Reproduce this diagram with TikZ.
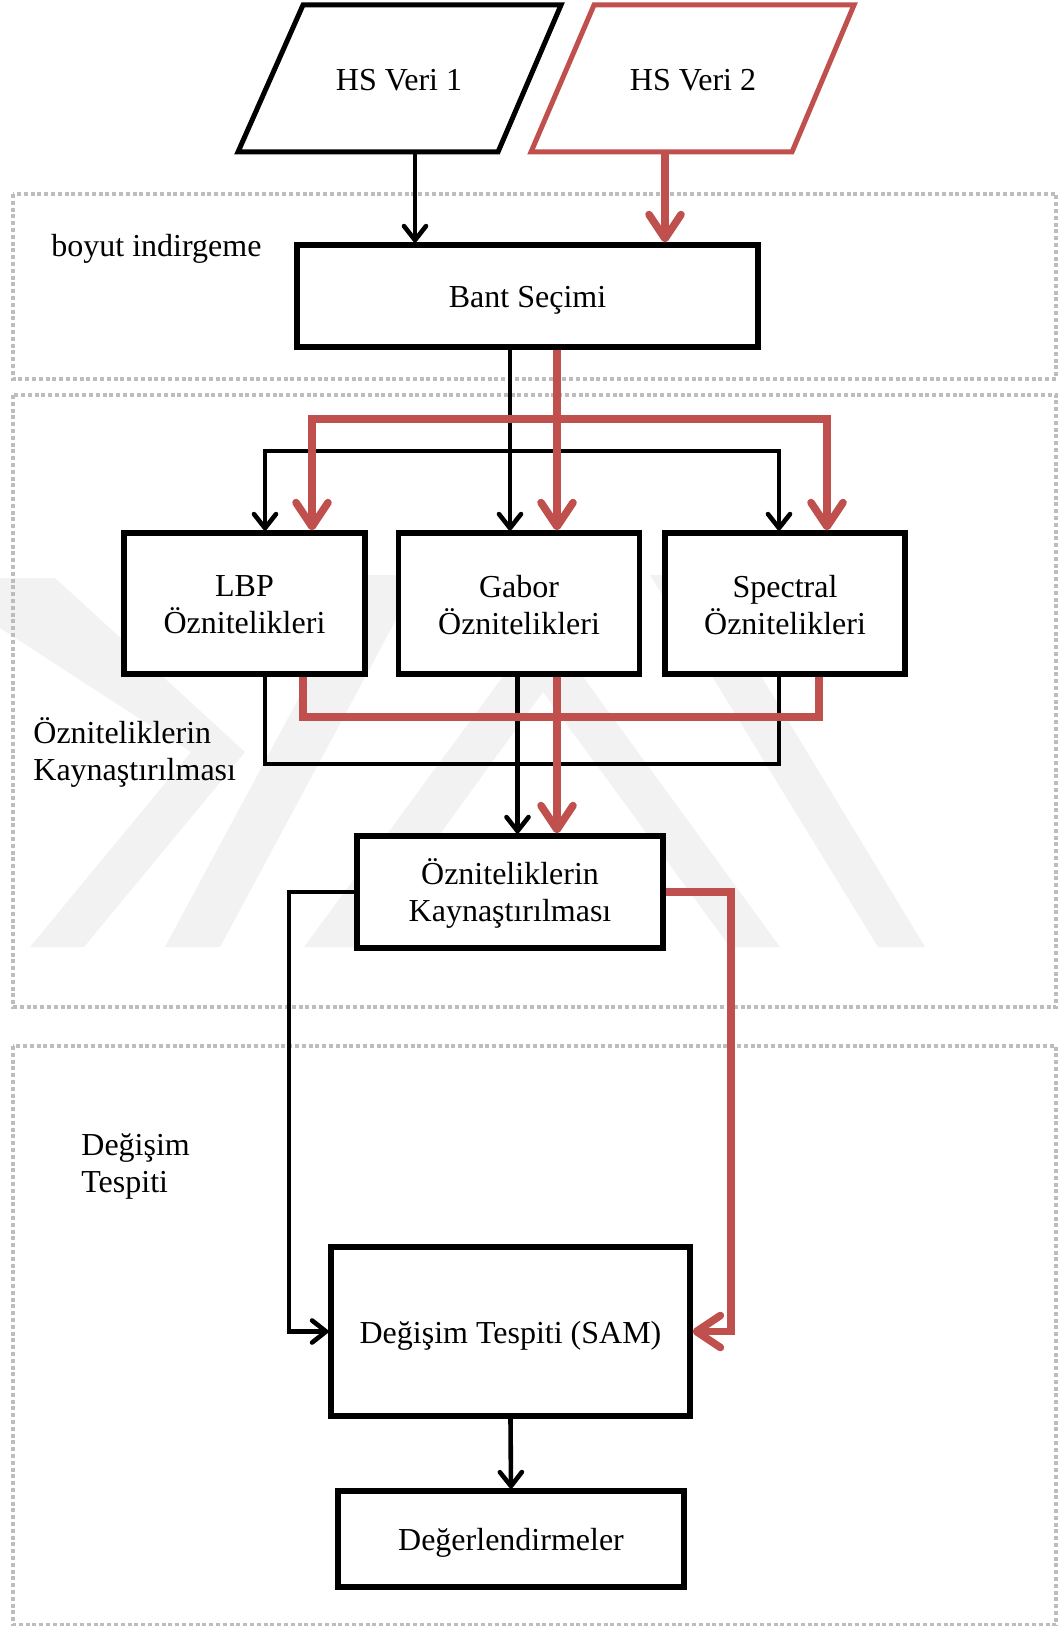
\documentclass[tikz,border=0pt]{standalone}
\usepackage{fontspec}
\setmainfont{Liberation Serif}
\usetikzlibrary{arrows.meta}
\definecolor{redline}{HTML}{C0504D}
\definecolor{dotgray}{HTML}{BDBDBD}
\definecolor{wmgray}{HTML}{F2F2F2}
\newcommand\lowtext[2]{\raisebox{-#1}[\height][\depth]{#2}}
\tikzset{
  txt/.style={font=\fontsize{16}{18.5}\selectfont},
  box/.style={txt, draw=black, line width=2.6pt, fill=white, inner sep=0pt, align=center},
  blk/.style={draw=black, line width=2.3pt},
  redcon/.style={draw=redline, line width=3.8pt},
  blkarrow/.style={blk, -{Straight Barb[length=7pt,width=11pt,round]}},
  redarrow/.style={redcon, -{Straight Barb[length=12pt,width=16pt,round]}},
  zone/.style={draw=dotgray, line width=1.8pt, dash pattern=on 2pt off 1.4pt},
  lbl/.style={txt, align=left, anchor=west, inner sep=0pt},
  wm/.style={fill=wmgray, draw=none},
}
\begin{document}
\begin{tikzpicture}[x=0.5pt,y=-0.5pt]
\useasboundingbox (0,0) rectangle (1059,1626);
\fill[white] (0,0) rectangle (1059,1626);

% faint watermark
\fill[wm] (0,578) -- (0,628) -- (191,752) -- (30,947) -- (84,947) -- (245,752) -- (55,578) -- cycle;
\fill[wm] (165,947) -- (220,947) -- (420,575) -- (365,575) -- cycle;
\fill[wm] (304,947) -- (543,622) -- (780,947) -- (730,947) -- (543,692) -- (358,947) -- cycle;
\fill[wm] (878,947) -- (925,947) -- (700,575) -- (650,575) -- cycle;

% dotted zones
\draw[zone] (13,194) rectangle (1056,379);
\draw[zone] (13,395) rectangle (1056,1007);
\draw[zone] (13,1046) rectangle (1056,1625);

% zone labels
\node[lbl] (lab1) at (51,249) {boyut indirgeme};
\node[lbl] (lab2) at (33,752) {Özniteliklerin\\Kaynaştırılması};
\node[lbl] (lab3) at (81,1166) {Değişim\\Tespiti};

% input parallelograms
\draw[line width=2.5pt, fill=white] (303,5) -- (561,5) -- (498,152) -- (238,152) -- cycle;
\node[txt] (hs1) at (399,80) {HS Veri 1};
\draw[draw=redline, line width=2.5pt, fill=white] (594,5) -- (854,5) -- (792,152) -- (531,152) -- cycle;
\node[txt] (hs2) at (693,80) {HS Veri 2};
\coordinate (hs1b) at (415,152);
\coordinate (hs2b) at (665,152);

% boxes
\node[box, minimum width=230.5pt, minimum height=51pt] (bant) at (527.5,296) {\lowtext{2pt}{Bant Seçimi}};
\node[box, minimum width=120.5pt, minimum height=70.5pt] (lbp) at (244.5,603.5) {\lowtext{0.6pt}{LBP}\\\lowtext{0.6pt}{Öznitelikleri}};
\node[box, minimum width=120.5pt, minimum height=70.5pt] (gabor) at (519,603.5) {\lowtext{0.6pt}{Gabor}\\\lowtext{0.6pt}{Öznitelikleri}};
\node[box, minimum width=120pt, minimum height=70.5pt] (spec) at (785,603.5) {\lowtext{0.6pt}{Spectral}\\\lowtext{0.6pt}{Öznitelikleri}};
\node[box, minimum width=153pt, minimum height=56pt] (fus) at (510,892) {\lowtext{0.6pt}{Özniteliklerin}\\\lowtext{0.6pt}{Kaynaştırılması}};
\node[box, minimum width=179.5pt, minimum height=84.5pt] (sam) at (510.5,1331.5) {\lowtext{2pt}{Değişim Tespiti (SAM)}};
\node[box, minimum width=173pt, minimum height=48pt] (deg) at (511,1539) {\lowtext{2pt}{Değerlendirmeler}};

% rails
\coordinate (kx1) at (265,0);
\coordinate (kx2) at (510,0);
\coordinate (kx2b) at (517.5,0);
\coordinate (kx3) at (779,0);
\coordinate (rx1) at (312,0);
\coordinate (rx1b) at (303,0);
\coordinate (rx2) at (557,0);
\coordinate (rx3) at (827,0);
\coordinate (rx3b) at (819,0);
\coordinate (jk) at (510,451);
\coordinate (jr) at (557,419);
\coordinate (jk2) at (518,764);
\coordinate (jr2) at (557,717);
\coordinate (cl) at (289,1331.5);
\coordinate (cr) at (731,1331.5);

% inputs to band selection
\draw[blkarrow] (hs1b) -- (hs1b |- bant.north);
\draw[redarrow] (hs2b) -- (hs2b |- bant.north);

% black distribution
\draw[blkarrow] (bant.south -| kx2) -- (gabor.north -| kx2);
\draw[blkarrow] (jk) -| (lbp.north -| kx1);
\draw[blkarrow] (jk) -| (spec.north -| kx3);

% red distribution
\draw[redarrow] (bant.south -| rx2) -- (gabor.north -| rx2);
\draw[redarrow] (jr) -| (lbp.north -| rx1);
\draw[redarrow] (jr) -| (spec.north -| rx3);

% black fusion
\draw[blk] (lbp.south -| kx1) |- (jk2) -| (spec.south -| kx3);
\draw[blkarrow] (gabor.south -| kx2b) -- (fus.north -| kx2b);

% red fusion
\draw[redcon] (lbp.south -| rx1b) |- (jr2) -| (spec.south -| rx3b);
\draw[redarrow] (gabor.south -| rx2) -- (fus.north -| rx2);

% to change detection
\draw[blkarrow] (fus.west) -| (cl) -- (sam.west);
\draw[redarrow] (fus.east) -| (cr) -- (sam.east);
\draw[blkarrow] (sam.south) -- (deg.north);
\end{tikzpicture}
\end{document}
